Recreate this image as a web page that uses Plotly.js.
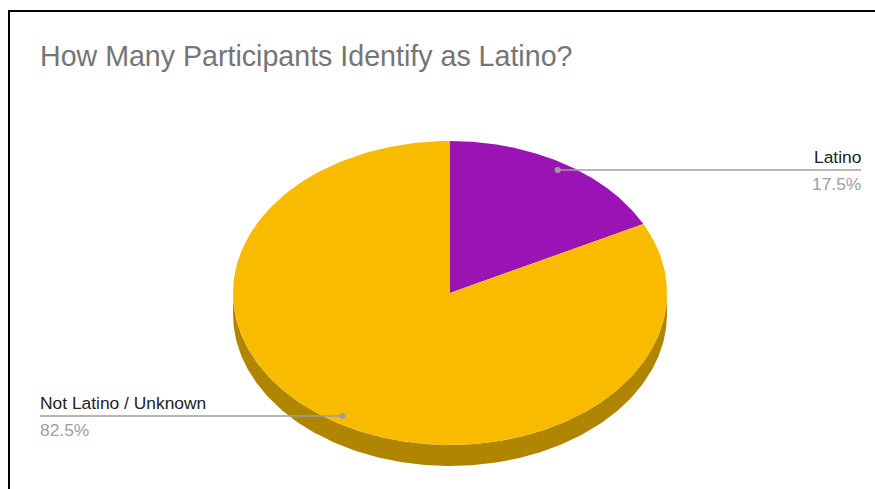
<!DOCTYPE html>
<html>
<head>
<meta charset="utf-8">
<script src="https://cdn.plot.ly/plotly-3.0.1.min.js"></script>
<style>html,body{margin:0;padding:0;background:#fff;}#chart{width:875px;height:489px;}</style>
</head>
<body>
<div id="chart"></div>
<script>
// ---- data ----
const chartTitle = "How Many Participants Identify as Latino?";
const categories = ["Latino", "Not Latino / Unknown"];
const values = [17.5, 82.5];
const percentLabels = ["17.5%", "82.5%"];
const topColors = ["#9c13b5", "#f9bb00"];
const sideColors = ["#6d0d7f", "#b08500"];

// ---- geometry of the 3D ellipse (pixel space) ----
const W = 875, H = 489;
const cx = 450, cy = 293, rx = 217, ry = 152, depth = 21;

function pt(theta, r, dy) { // theta in degrees, clockwise from 12 o'clock
  const t = theta * Math.PI / 180;
  return [cx + rx * r * Math.sin(t), cy - ry * r * Math.cos(t) + (dy || 0)];
}

const total = values.reduce((a, b) => a + b, 0);
let start = 0;
const slices = values.map((v, i) => {
  const a0 = start, a1 = start + v / total * 360;
  start = a1;
  return {a0, a1, mid: (a0 + a1) / 2, i};
});

const traces = [];
// sides (front half, 90..270 deg)
slices.forEach(s => {
  const lo = Math.max(s.a0, 90), hi = Math.min(s.a1, 270);
  if (hi <= lo) return;
  const xs = [], ys = [];
  for (let a = lo; a <= hi + 1e-9; a += (hi - lo) / 200) { const p = pt(a, 1, 0); xs.push(p[0]); ys.push(p[1]); }
  for (let a = hi; a >= lo - 1e-9; a -= (hi - lo) / 200) { const p = pt(a, 1, depth); xs.push(p[0]); ys.push(p[1]); }
  traces.push({type: 'scatter', mode: 'lines', x: xs, y: ys, fill: 'toself', fillcolor: sideColors[s.i], line: {width: 0, color: sideColors[s.i]}, hoverinfo: 'skip'});
});
// tops
slices.forEach(s => {
  const xs = [cx], ys = [cy];
  const n = 300;
  for (let k = 0; k <= n; k++) { const p = pt(s.a0 + (s.a1 - s.a0) * k / n, 1, 0); xs.push(p[0]); ys.push(p[1]); }
  xs.push(cx); ys.push(cy);
  traces.push({type: 'scatter', mode: 'lines', x: xs, y: ys, fill: 'toself', fillcolor: topColors[s.i], line: {width: 0, color: topColors[s.i]}, hoverinfo: 'skip'});
});

// leader lines + labels
const annotations = [];
slices.forEach(s => {
  const p = pt(s.mid, 0.95, 0);
  const right = p[0] >= cx;
  const endX = right ? 861 : 40;
  const textX = right ? 863 : 38;
  traces.push({type: 'scatter', mode: 'lines', x: [p[0], endX], y: [p[1], p[1]], line: {color: '#9e9e9e', width: 1.5}, hoverinfo: 'skip'});
  traces.push({type: 'scatter', mode: 'markers', x: [p[0]], y: [p[1]], marker: {color: '#9e9e9e', size: 6}, hoverinfo: 'skip'});
  annotations.push({x: textX, y: p[1] - 1, xref: 'x', yref: 'y', text: categories[s.i], showarrow: false,
    xanchor: right ? 'right' : 'left', yanchor: 'bottom', font: {family: 'Liberation Sans, Arial', size: 17.4, color: '#222222'}});
  annotations.push({x: textX, y: p[1] + 2, xref: 'x', yref: 'y', text: percentLabels[s.i], showarrow: false,
    xanchor: right ? 'right' : 'left', yanchor: 'top', font: {family: 'Liberation Sans, Arial', size: 17.4, color: '#9e9e9e'}});
});

const layout = {
  width: W, height: H,
  margin: {l: 0, r: 0, t: 0, b: 0},
  paper_bgcolor: '#ffffff', plot_bgcolor: '#ffffff',
  showlegend: false,
  title: {text: chartTitle, x: 40 / W, xanchor: 'left', xref: 'paper', y: 1 - 56 / H, yanchor: 'middle', yref: 'paper',
    font: {family: 'Liberation Sans, Arial', size: 28.6, color: '#757575'}},
  xaxis: {range: [0, W], visible: false, fixedrange: true},
  yaxis: {range: [H, 0], visible: false, fixedrange: true},
  annotations: annotations,
  shapes: [{type: 'rect', xref: 'x', yref: 'y', x0: 9, y0: 11, x1: W + 20, y1: H + 20, line: {color: '#000000', width: 2}, layer: 'above'}]
};

Plotly.newPlot('chart', traces, layout, {staticPlot: true, displayModeBar: false});
</script>
</body>
</html>
